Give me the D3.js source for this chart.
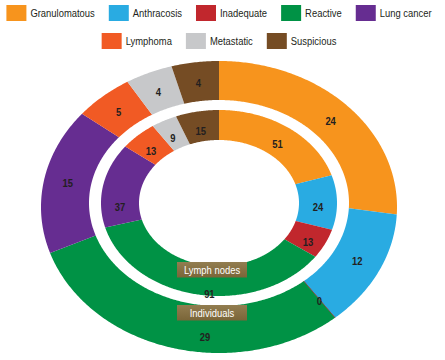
<!DOCTYPE html>
<html>
<head>
<meta charset="utf-8">
<script src="https://cdn.jsdelivr.net/npm/d3@7"></script>
<style>
  body { margin: 0; background: #fff; }
  svg { display: block; font-family: "Liberation Sans", Arial, sans-serif; }
</style>
</head>
<body>
<div id="chart"></div>
<script>
const categories = ['Granulomatous', 'Anthracosis', 'Inadequate', 'Reactive', 'Lung cancer', 'Lymphoma', 'Metastatic', 'Suspicious'];
const individuals = [24, 12, 0, 29, 15, 5, 4, 4];
const lymphNodes = [51, 24, 13, 91, 37, 13, 9, 15];
const ringTitles = ['Lymph nodes', 'Individuals'];

const COLORS = ['#f7941d', '#29abe2', '#c1272d', '#009245', '#662d91', '#f15a24', '#c7c8ca', '#754c24'];

const width = 445, height = 360;
const cx = 219;
const SQUASH = 0.82; // fake a condensed face

// rings are a little squashed, so each edge is an ellipse
const RINGS = {
  outer: { outer: { cx, cy: 207, rx: 178, ry: 146 }, inner: { cx, cy: 203, rx: 130, ry: 103 }, dy: 1 },
  inner: { outer: { cx, cy: 203, rx: 118, ry: 93 }, inner: { cx, cy: 203, rx: 80, ry: 63 }, dy: 4 }
};

// a few labels were moved by hand in the original
const LABEL_TWEAK = {
  outer: { Reactive: { angle: 185, t: 0.65 } },
  inner: { Reactive: { angle: 185, t: 0.8 }, 'Lung cancer': { angle: 270 } }
};

const color = d3.scaleOrdinal().domain(categories).range(COLORS);

const svg = d3.select('#chart').append('svg')
  .attr('width', width)
  .attr('height', height);

const pie = d3.pie().sort(null).value(d => d.value);

function pt(e, a) {
  return [e.cx + e.rx * Math.sin(a), e.cy - e.ry * Math.cos(a)];
}

const line = d3.line();

function ringPath(a0, a1, ring) {
  const n = Math.max(1, Math.ceil((a1 - a0) / 0.01));
  const outerPts = d3.range(n + 1).map(i => pt(ring.outer, a0 + (a1 - a0) * i / n));
  const innerPts = d3.range(n + 1).map(i => pt(ring.inner, a1 - (a1 - a0) * i / n));
  return line(outerPts.concat(innerPts)) + 'Z';
}

function drawRing(values, key) {
  const ring = RINGS[key];
  const arcs = pie(categories.map((c, i) => ({ name: c, value: values[i] })));
  const g = svg.append('g');

  g.selectAll('path')
    .data(arcs)
    .join('path')
    .attr('d', d => ringPath(d.startAngle, d.endAngle, ring))
    .attr('fill', d => color(d.data.name))
    .attr('stroke', d => d.data.value === 0 ? color(d.data.name) : 'none')
    .attr('stroke-width', 0.8);

  g.selectAll('text')
    .data(arcs)
    .join('text')
    .attr('transform', d => {
      const tw = LABEL_TWEAK[key][d.data.name] || {};
      const a = tw.angle != null ? tw.angle * Math.PI / 180 : (d.startAngle + d.endAngle) / 2;
      const t = tw.t != null ? tw.t : 0.5;
      const po = pt(ring.outer, a), pi = pt(ring.inner, a);
      const x = pi[0] + (po[0] - pi[0]) * t;
      const y = pi[1] + (po[1] - pi[1]) * t + ring.dy;
      return 'translate(' + x + ',' + y + ') scale(' + SQUASH + ',1)';
    })
    .attr('text-anchor', 'middle')
    .attr('dominant-baseline', 'central')
    .attr('font-size', '11.5px')
    .attr('font-weight', 'bold')
    .attr('fill', '#231f20')
    .text(d => d.data.value);
}

drawRing(individuals, 'outer');
drawRing(lymphNodes, 'inner');

// title boxes
const grad = svg.append('defs').append('linearGradient')
  .attr('id', 'boxgrad').attr('x1', 0).attr('y1', 0).attr('x2', 0).attr('y2', 1);
grad.append('stop').attr('offset', 0).attr('stop-color', '#927d50');
grad.append('stop').attr('offset', 1).attr('stop-color', '#7a6538');

const boxes = svg.append('g').selectAll('g')
  .data(ringTitles)
  .join('g')
  .attr('transform', (d, i) => 'translate(' + (cx - 42) + ',' + (262 + i * 43) + ')');

boxes.append('rect')
  .attr('width', 70)
  .attr('height', 15.5)
  .attr('fill', 'url(#boxgrad)');

boxes.append('text')
  .attr('transform', 'translate(35,8) scale(' + SQUASH + ',1)')
  .attr('text-anchor', 'middle')
  .attr('dominant-baseline', 'central')
  .attr('font-size', '11.5px')
  .attr('fill', '#fff')
  .text(d => d);

// legend, two centred rows
const legendRows = [categories.slice(0, 5), categories.slice(5)];
legendRows.forEach((row, r) => {
  const g = svg.append('g');
  const items = g.selectAll('g')
    .data(row)
    .join('g');
  items.append('rect')
    .attr('y', -8)
    .attr('width', 20)
    .attr('height', 16)
    .attr('fill', d => color(d));
  items.append('text')
    .attr('transform', 'translate(24,0) scale(' + SQUASH + ',1)')
    .attr('dominant-baseline', 'central')
    .attr('font-size', '11.5px')
    .attr('fill', '#231f20')
    .text(d => d);

  let x = 0;
  items.each(function () {
    const w = 24 + this.querySelector('text').getComputedTextLength() * SQUASH;
    d3.select(this).attr('transform', 'translate(' + x + ',0)');
    x += w + 14;
  });
  const total = x - 14;
  g.attr('transform', 'translate(' + (cx - total / 2) + ',' + (13 + r * 28) + ')');
});
</script>
</body>
</html>
